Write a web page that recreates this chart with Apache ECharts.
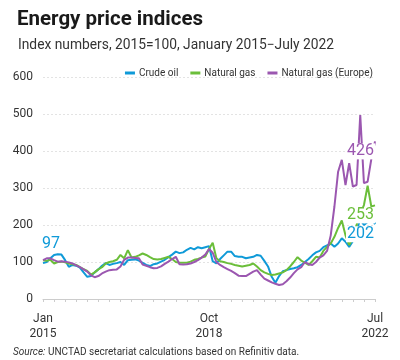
<!DOCTYPE html>
<html>
<head>
<meta charset="utf-8">
<script src="https://cdn.jsdelivr.net/npm/echarts@6/dist/echarts.min.js"></script>
<style>
html,body{margin:0;padding:0;background:#fff;}
#chart{width:400px;height:360px;}
</style>
</head>
<body>
<div id="chart"></div>
<script>
// Categories: monthly, January 2015 to July 2022
const monthNames = ['Jan','Feb','Mar','Apr','May','Jun','Jul','Aug','Sep','Oct','Nov','Dec'];
const categories = [];
for (let y = 2015; y <= 2022; y++) {
  for (let m = 0; m < 12; m++) {
    if (y === 2022 && m > 6) break;
    categories.push(monthNames[m] + '\n' + y);
  }
}
const xTickLabelIndices = [0, 45, 90]; // Jan 2015, Oct 2018, Jul 2022
const yTicks = [0, 100, 200, 300, 400, 500, 600];

const seriesNames = ['Crude oil', 'Natural gas', 'Natural gas (Europe)'];

const crudeOil = [
  97, 100, 110, 119, 121, 120, 105, 87, 92, 90, 85, 72,
  60, 62, 72, 80, 90, 97, 92, 95, 97, 100, 92, 105,
  106, 107, 104, 98, 92, 89, 94, 96, 101, 106, 113, 120,
  128, 124, 126, 133, 138, 134, 140, 137, 140, 143, 102, 96,
  108, 118, 128, 128, 116, 114, 114, 110, 112, 114, 119, 117,
  103, 88, 60, 44, 62, 75, 78, 81, 83, 86, 92, 100,
  108, 118, 126, 130, 140, 145, 150, 141, 150, 164, 155, 141,
  156, 185, 215, 200, 208, 224, 202
];

const naturalGas = [
  105, 103, 106, 96, 100, 101, 99, 96, 94, 92, 86, 81,
  76, 66, 72, 80, 86, 96, 100, 102, 106, 119, 110, 132,
  112, 114, 118, 123, 119, 113, 108, 107, 108, 111, 114, 108,
  100, 98, 98, 98, 101, 106, 108, 112, 115, 135, 152, 110,
  102, 100, 97, 95, 92, 90, 88, 90, 92, 96, 88, 78,
  72, 68, 65, 66, 69, 72, 78, 88, 100, 113, 104, 98,
  92, 102, 114, 112, 130, 141, 150, 168, 192, 212, 172, 146,
  165, 200, 230, 254, 306, 250, 253
];

const naturalGasEurope = [
  105, 110, 110, 105, 101, 102, 101, 99, 96, 91, 86, 80,
  74, 64, 59, 62, 69, 74, 78, 79, 80, 88, 106, 112,
  112, 111, 110, 93, 90, 86, 83, 84, 88, 95, 101, 108,
  114, 94, 93, 94, 96, 100, 105, 112, 120, 135, 125, 100,
  92, 86, 81, 76, 70, 63, 62, 62, 68, 74, 78, 66,
  55, 50, 45, 41, 38, 40, 48, 58, 70, 80, 86, 100,
  94, 92, 100, 112, 118, 130, 172, 250, 344, 376, 308, 367,
  304, 308, 497, 313, 317, 378, 426
];

const colors = ['#0F9AD8', '#6BBE3A', '#9B57B0'];

const chart = echarts.init(document.getElementById('chart'), null, {renderer: 'canvas'});

function labelled(arr, color, firstLabel) {
  const last = arr.length - 1;
  return arr.map(function (v, i) {
    if (i === last) {
      return {value: v, label: {
        show: true, position: 'bottom', align: 'right', distance: 2, offset: [0, 0],
        color: color, fontSize: 16, fontFamily: "'Liberation Sans Narrow', Roboto, sans-serif",
        backgroundColor: '#fff', padding: [0, 1, 0, 1]
      }};
    }
    if (i === 0 && firstLabel) {
      return {value: v, label: {
        show: true, position: 'top', align: 'left', distance: 11, offset: [-2, 0],
        color: color, fontSize: 16, fontFamily: "'Liberation Sans Narrow', Roboto, sans-serif",
        backgroundColor: '#fff', padding: [0, 1, 0, 1]
      }};
    }
    return v;
  });
}

function lineSeries(name, arr, color, firstLabel) {
  return {
    name: name, type: 'line', data: labelled(arr, color, firstLabel),
    showSymbol: true, symbol: 'circle', symbolSize: 0,
    itemStyle: {color: color},
    lineStyle: {color: color, width: 2},
    emphasis: {disabled: true},
    animation: false
  };
}

chart.setOption({
  animation: false,
  textStyle: {fontFamily: 'Roboto, sans-serif'},
  title: [
    {text: 'Energy price indices', left: 12, top: 4,
     textStyle: {fontSize: 20.5, fontWeight: 'bold', color: '#1a1a1a', fontFamily: 'Roboto, sans-serif'}},
    {text: 'Index numbers, 2015=100, January 2015\u2212July 2022', left: 13, top: 34,
     textStyle: {fontSize: 13.8, fontWeight: 'normal', color: '#333', fontFamily: 'Roboto, sans-serif'}}
  ],
  legend: {
    top: 63, right: 22, itemWidth: 10, itemHeight: 3, itemGap: 12, icon: 'rect',
    textStyle: {fontSize: 10, color: '#333', padding: [0, 0, 0, -1]},
    data: seriesNames
  },
  grid: {left: 43, right: 25, top: 77, bottom: 61, containLabel: false},
  xAxis: {
    type: 'category', data: categories, boundaryGap: false,
    axisLine: {lineStyle: {color: '#ccc', width: 1}},
    axisTick: {show: true, interval: 2, length: 3, lineStyle: {color: '#ccc'}},
    axisLabel: {
      interval: function (i) { return xTickLabelIndices.indexOf(i) >= 0; },
      fontSize: 12, color: '#333', lineHeight: 15, margin: 12
    },
    splitLine: {show: false}
  },
  yAxis: {
    type: 'value', min: yTicks[0], max: yTicks[yTicks.length - 1], interval: 100,
    axisLine: {show: false}, axisTick: {show: false},
    axisLabel: {fontSize: 12, color: '#333', margin: 10},
    splitLine: {lineStyle: {color: '#e3e3e3', type: [2, 2], width: 1}}
  },
  series: [
    lineSeries(seriesNames[0], crudeOil, colors[0], true),
    lineSeries(seriesNames[1], naturalGas, colors[1], false),
    lineSeries(seriesNames[2], naturalGasEurope, colors[2], false)
  ],
  graphic: [{
    type: 'text', left: 13, top: 347,
    style: {
      text: '{i|Source:} UNCTAD secretariat calculations based on Refinitiv data.',
      fontSize: 10, fill: '#333', fontFamily: 'Roboto, sans-serif',
      rich: {i: {fontStyle: 'italic', fontSize: 10, fill: '#333', fontFamily: 'Roboto, sans-serif'}}
    }
  }]
});
</script>
</body>
</html>
